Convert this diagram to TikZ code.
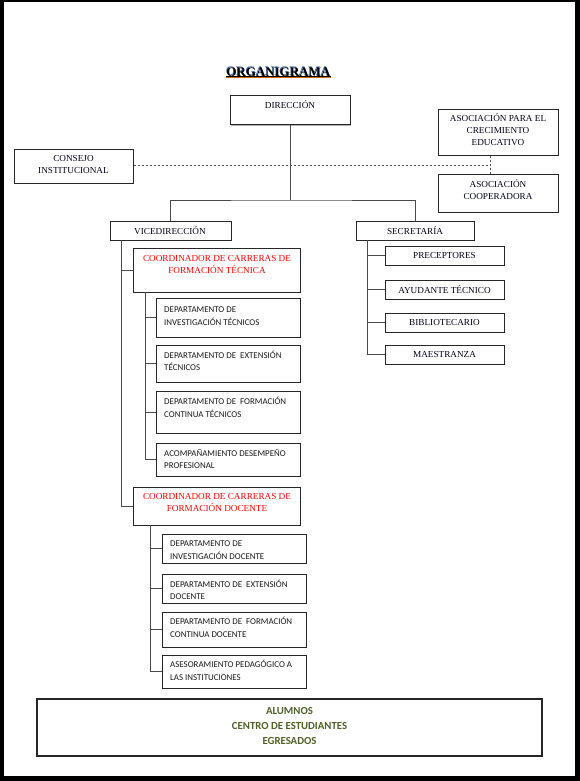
\documentclass[tikz,border=0pt]{standalone}
\usepackage{fontspec}
\setmainfont{Liberation Serif}
\newfontfamily\calibrifont{Carlito}
\usetikzlibrary{shadows}
\definecolor{olivetxt}{HTML}{4F6128}
\definecolor{titleblue}{HTML}{2F5FA8}
\definecolor{lineg}{HTML}{4A4A4A}
\begin{document}
\begin{tikzpicture}[x=1pt,y=-1pt,
  box/.style={draw=black!85, line width=1pt, fill=white, inner sep=0pt,
    drop shadow={shadow xshift=0.9pt, shadow yshift=-0.9pt, fill=black!45, opacity=0.7}},
  slbl/.style={font=\fontsize{9.2}{12}\selectfont, align=center, inner sep=0pt, text=black!90!blue},
  rlbl/.style={font=\fontsize{9.2}{12}\selectfont, align=center, inner sep=0pt, text=red},
  dlbl/.style={font=\calibrifont\fontsize{8.9}{12.5}\selectfont, align=left, anchor=west, inner sep=0pt, text=black!90},
  conn/.style={draw=lineg, line width=1pt},
  dconn/.style={draw=lineg, line width=1pt, dash pattern=on 2.5pt off 1.5pt}]
\fill[black] (0,0) rectangle (580,781);
\fill[white] (4,2) rectangle (575,776);
\useasboundingbox (0,0) rectangle (580,781);

% title
\node[font=\bfseries\fontsize{13}{15}\selectfont, text=titleblue, inner sep=0pt] (titlesh) at (277.8,71.6) {ORGANIGRAMA};
\node[font=\bfseries\fontsize{13}{15}\selectfont, text=black, inner sep=0pt] (title) at (278.5,72) {ORGANIGRAMA};
\draw[orange!80!black, line width=0.8pt] ([yshift=-1.4pt]title.base west) -- ([yshift=-1.4pt]title.base east);
\draw[black, line width=1pt] ([yshift=-0.6pt]title.base west) -- ([yshift=-0.6pt]title.base east);

% boxes
\node[box, minimum width=120, minimum height=29] (dir) at (290,110.5) {};
\node[box, minimum width=119, minimum height=34] (consejo) at (73.5,166) {};
\node[box, minimum width=120, minimum height=45] (ace) at (498,132.5) {};
\node[box, minimum width=120, minimum height=38] (coop) at (498,193) {};
\node[box, minimum width=121, minimum height=19] (vice) at (170.5,230.5) {};
\node[box, minimum width=118, minimum height=19] (sec) at (415,230.5) {};
\node[box, minimum width=119, minimum height=19] (prec) at (444.5,255.5) {};
\node[box, minimum width=119, minimum height=19] (ayu) at (444.5,289.5) {};
\node[box, minimum width=119, minimum height=19] (bib) at (444.5,322.5) {};
\node[box, minimum width=119, minimum height=19] (mae) at (444.5,354.5) {};
\node[box, minimum width=167, minimum height=44] (coordT) at (216.5,270) {};
\node[box, minimum width=144, minimum height=39] (d1) at (228,317.5) {};
\node[box, minimum width=144, minimum height=37] (d2) at (228,363.5) {};
\node[box, minimum width=144, minimum height=42] (d3) at (228,412) {};
\node[box, minimum width=144, minimum height=33] (d4) at (228,459.5) {};
\node[box, minimum width=167, minimum height=38] (coordD) at (216.5,506) {};
\node[box, minimum width=144, minimum height=29] (e1) at (234,548.5) {};
\node[box, minimum width=144, minimum height=29] (e2) at (234,588.5) {};
\node[box, minimum width=144, minimum height=35] (e3) at (234,629.5) {};
\node[box, minimum width=144, minimum height=33] (e4) at (234,671.5) {};
\node[box, minimum width=505, minimum height=57, line width=1.2pt] (bottom) at (289.5,727.5) {};

% labels
\node[slbl] (dirt) at (290,105) {DIRECCIÓN};
\node[slbl] (consejot) at (73.5,164) {CONSEJO\\INSTITUCIONAL};
\node[slbl] (acet) at (498,130) {ASOCIACIÓN PARA EL\\CRECIMIENTO\\EDUCATIVO};
\node[slbl] (coopt) at (498,190) {ASOCIACIÓN\\COOPERADORA};
\node[slbl] (vicet) at (170,230.5) {VICEDIRECCIÓN};
\node[slbl] (sect) at (415,231) {SECRETARÍA};
\node[slbl] (prect) at (444.5,255.5) {PRECEPTORES};
\node[slbl] (ayut) at (444.5,289.5) {AYUDANTE TÉCNICO};
\node[slbl] (bibt) at (444.5,322.5) {BIBLIOTECARIO};
\node[slbl] (maet) at (444.5,354.5) {MAESTRANZA};
\node[rlbl] (coordTt) at (217,264) {COORDINADOR DE CARRERAS DE\\FORMACIÓN TÉCNICA};
\node[rlbl] (coordDt) at (217,502) {COORDINADOR DE CARRERAS DE\\FORMACIÓN DOCENTE};
\node[dlbl] (d1t) at (164,316) {DEPARTAMENTO DE\\INVESTIGACIÓN TÉCNICOS};
\node[dlbl] (d2t) at (164,361) {DEPARTAMENTO DE \ EXTENSIÓN\\TÉCNICOS};
\node[dlbl] (d3t) at (164,407.5) {DEPARTAMENTO DE \ FORMACIÓN\\CONTINUA TÉCNICOS};
\node[dlbl] (d4t) at (164,459) {ACOMPAÑAMIENTO DESEMPEÑO\\PROFESIONAL};
\node[dlbl] (e1t) at (170,550) {DEPARTAMENTO DE\\INVESTIGACIÓN DOCENTE};
\node[dlbl] (e2t) at (170,590) {DEPARTAMENTO DE \ EXTENSIÓN\\DOCENTE};
\node[dlbl] (e3t) at (170,627.5) {DEPARTAMENTO DE \ FORMACIÓN\\CONTINUA DOCENTE};
\node[dlbl] (e4t) at (170,670.5) {ASESORAMIENTO PEDAGÓGICO A\\LAS INSTITUCIONES};
\node[font=\calibrifont\bfseries\fontsize{10.8}{15}\selectfont, align=center, text=olivetxt, inner sep=0pt] (bottomt) at (289.5,726) {ALUMNOS\\CENTRO DE ESTUDIANTES\\EGRESADOS};

% connectors
\coordinate (j1) at (290,200);
\coordinate (dv) at (490,165);
\coordinate (sv) at (367,240);
\coordinate (vv) at (121,240);
\coordinate (tv) at (145,292);
\coordinate (dvv) at (150,525);
\draw[conn] (dir.south) -- (j1);
\draw[conn] (vice.north) |- (j1) -| (sec.north);
\draw[dconn] (consejo.east |- dv) -- (dv);
\draw[dconn] (ace.south -| dv) -- (coop.north -| dv);
\draw[conn] (sv) |- (mae.west);
\draw[conn] (sv |- prec.west) -- (prec.west);
\draw[conn] (sv |- ayu.west) -- (ayu.west);
\draw[conn] (sv |- bib.west) -- (bib.west);
\draw[conn] (vv) |- (coordD.west);
\draw[conn] (vv |- coordT.west) -- (coordT.west);
\draw[conn] (tv) |- (d4.west);
\draw[conn] (tv |- d1.west) -- (d1.west);
\draw[conn] (tv |- d2.west) -- (d2.west);
\draw[conn] (tv |- d3.west) -- (d3.west);
\draw[conn] (dvv) |- (e4.west);
\draw[conn] (dvv |- e1.west) -- (e1.west);
\draw[conn] (dvv |- e2.west) -- (e2.west);
\draw[conn] (dvv |- e3.west) -- (e3.west);
\end{tikzpicture}
\end{document}
